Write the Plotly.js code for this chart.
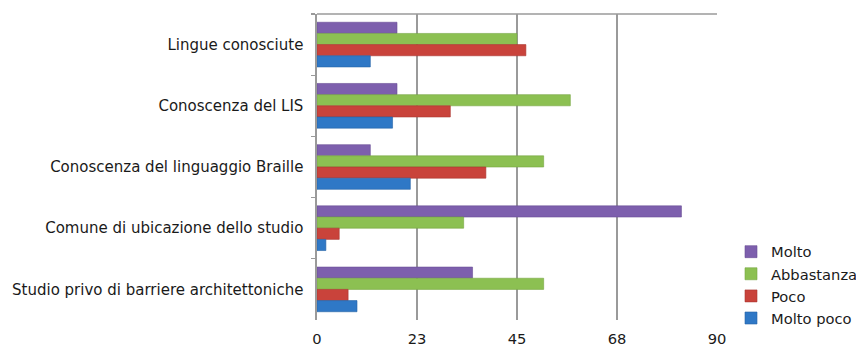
<!DOCTYPE html>
<html>
<head>
<meta charset="utf-8">
<script src="https://cdn.plot.ly/plotly-3.0.1.min.js"></script>
<style>
  html, body { margin: 0; padding: 0; background: #fff; }
  #chart { width: 856px; height: 349px; }
</style>
</head>
<body>
<div id="chart"></div>
<script>
// Survey items, listed top to bottom
const categories = [
  'Lingue conosciute',
  'Conoscenza del LIS',
  'Conoscenza del linguaggio Braille',
  'Comune di ubicazione dello studio',
  'Studio privo di barriere architettoniche'
];

// Answers per item
const molto      = [18, 18, 12, 82, 35];
const abbastanza = [45, 57, 51, 33, 51];
const poco       = [47, 30, 38, 5, 7];
const moltoPoco  = [12, 17, 21, 2, 9];

// Value axis ticks and their printed labels
const tickValues = [0, 22.5, 45, 67.5, 90];
const tickLabels = ['0', '23', '45', '68', '90'];

const seriesNames = ['Molto', 'Abbastanza', 'Poco', 'Molto poco'];
const seriesData = [molto, abbastanza, poco, moltoPoco];
const seriesColors = ['#7d5fad', '#8cc052', '#c9433b', '#2f78c6'];
const seriesLines = ['#6a4f95', '#76a642', '#a93630', '#2763a6'];

const traces = seriesData.map((vals, i) => ({
  type: 'bar',
  orientation: 'h',
  name: seriesNames[i],
  x: vals,
  y: categories,
  marker: { color: seriesColors[i], line: { color: seriesLines[i], width: 0.6 } },
  hoverinfo: 'x+name'
}));

const layout = {
  width: 856,
  height: 349,
  // keep the plot area fixed; the legend may run past the right edge
  margin: { l: 317, r: 139, t: 14, b: 29, autoexpand: false },
  paper_bgcolor: '#ffffff',
  plot_bgcolor: '#ffffff',
  font: { family: 'DejaVu Sans, Verdana, sans-serif', size: 15, color: '#1a1a1a' },
  barmode: 'group',
  bargap: 0.27,
  bargroupgap: 0,
  showlegend: true,
  legend: {
    x: 1.035, xanchor: 'left', xref: 'paper',
    y: 0.114, yanchor: 'middle',
    font: { size: 14.7, color: '#1a1a1a' },
    itemwidth: 30,
    tracegroupgap: 0,
    bgcolor: 'rgba(0,0,0,0)'
  },
  xaxis: {
    range: [0, 90],
    tickvals: tickValues,
    ticktext: tickLabels,
    showgrid: true,
    gridcolor: '#9a9a9a',
    gridwidth: 1.6,
    zeroline: false,
    showline: false,
    ticks: 'outside',
    ticklen: 5,
    tickcolor: 'rgba(0,0,0,0)',
    tickfont: { size: 14.7 },
    fixedrange: true
  },
  yaxis: {
    type: 'category',
    autorange: 'reversed',
    showgrid: false,
    zeroline: false,
    showline: true,
    linecolor: '#9a9a9a',
    linewidth: 1.6,
    ticks: 'outside',
    tickson: 'boundaries',
    ticklen: 4,
    tickcolor: '#9a9a9a',
    tickwidth: 1.2,
    ticklabelstandoff: 9,
    fixedrange: true
  },
  shapes: [{
    type: 'line', xref: 'x', yref: 'paper',
    x0: 0, x1: 90, y0: 1, y1: 1,
    line: { color: '#9a9a9a', width: 1.6 }
  }]
};

Plotly.newPlot('chart', traces, layout, { displayModeBar: false, staticPlot: true });
</script>
</body>
</html>
